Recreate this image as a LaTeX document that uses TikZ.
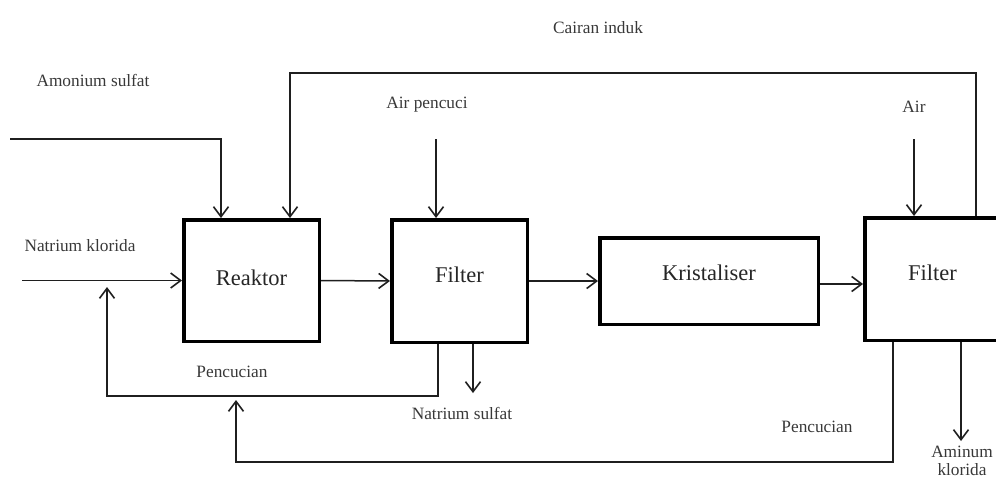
\documentclass[tikz,border=0pt]{standalone}
\usepackage{fontspec}
\setmainfont{Liberation Serif}
\usetikzlibrary{arrows.meta}
\begin{document}
\begin{tikzpicture}[x=1pt,y=-1pt,
  unit/.style={draw=black, line width=3.5pt, inner sep=0pt},
  boxtext/.style={font=\fontsize{22.5}{26}\selectfont, text=black!85, inner sep=0pt},
  lbl/.style={font=\fontsize{17.3}{18}\selectfont, text=black!78, inner sep=0pt},
  flow/.style={draw=black!88, line width=1.5pt},
  arr/.style={flow, -{Straight Barb[length=10pt,width=15pt,line width=1.6pt]}}
]
\useasboundingbox (0,0) rectangle (996,480);
\clip (0,0) rectangle (996,480);

% units
\node[unit, minimum width=135.5pt, minimum height=121.5pt] (reaktor) at (251.5,280.5) {};
\node[unit, minimum width=135.5pt, minimum height=122.5pt] (filter1) at (459.5,281) {};
\node[unit, minimum width=218.5pt, minimum height=86.5pt] (krist) at (709,281) {};
\node[unit, minimum width=135.5pt, minimum height=122.5pt] (filter2) at (932.5,279) {};

\node[boxtext] (treaktor) at ([yshift=3pt]reaktor.center) {Reaktor};
\node[boxtext] (tfilter1) at ([yshift=6pt]filter1.center) {Filter};
\node[boxtext] (tkrist) at ([yshift=8pt]krist.center) {Kristaliser};
\node[boxtext] (tfilter2) at ([yshift=6pt]filter2.center) {Filter};

% labels
\node[lbl] (lcairan) at (598,28) {Cairan induk};
\node[lbl] (lamon) at (93,80) {Amonium sulfat};
\node[lbl] (lnatk) at (80,246) {Natrium klorida};
\node[lbl] (lairp) at (427,105) {Air pencuci};
\node[lbl] (lair) at (914,107) {Air};
\node[lbl] (lnats) at (462,413) {Natrium sulfat};
\node[lbl] (lpen1) at (232,372) {Pencucian};
\node[lbl] (lpen2) at (817,427) {Pencucian};
\node[lbl, align=center] (lamin) at (962,461) {Aminum\\klorida};

% coordinates
\coordinate (amS) at (10,139);
\coordinate (a1) at (221,139);
\coordinate (c1) at (976,73);
\coordinate (c2) at (290,73);
\coordinate (nk) at (22,280.5);
\coordinate (ap) at (436,139);
\coordinate (ai) at (914,139);
\coordinate (ns) at (473,393);
\coordinate (p1a) at (438,396);
\coordinate (p1b) at (107,396);
\coordinate (p1c) at (107,287);
\coordinate (p2a) at (893,462);
\coordinate (p2b) at (236,462);
\coordinate (p2c) at (236,400);
\coordinate (am) at (961,441);

% connectors
\draw[arr] (amS) -- (a1) -- (a1 |- reaktor.north);
\draw[arr] (c1 |- filter2.north) -- (c1) -- (c2) -- (c2 |- reaktor.north);
\draw[arr] (nk) -- (nk -| reaktor.west);
\draw[arr] (reaktor.east) -- (filter1.west);
\draw[arr] (filter1.east) -- (krist.west);
\draw[arr] ([yshift=-3pt]krist.east) -- ([yshift=-3pt]krist.east -| filter2.west);
\draw[arr] (ap) -- (ap |- filter1.north);
\draw[arr] (ai) -- (ai |- filter2.north);
\draw[arr] (ns |- filter1.south) -- (ns);
\draw[arr] (p1a |- filter1.south) -- (p1a) -- (p1b) -- (p1c);
\draw[arr] (p2a |- filter2.south) -- (p2a) -- (p2b) -- (p2c);
\draw[arr] (am |- filter2.south) -- (am);
\end{tikzpicture}
\end{document}
